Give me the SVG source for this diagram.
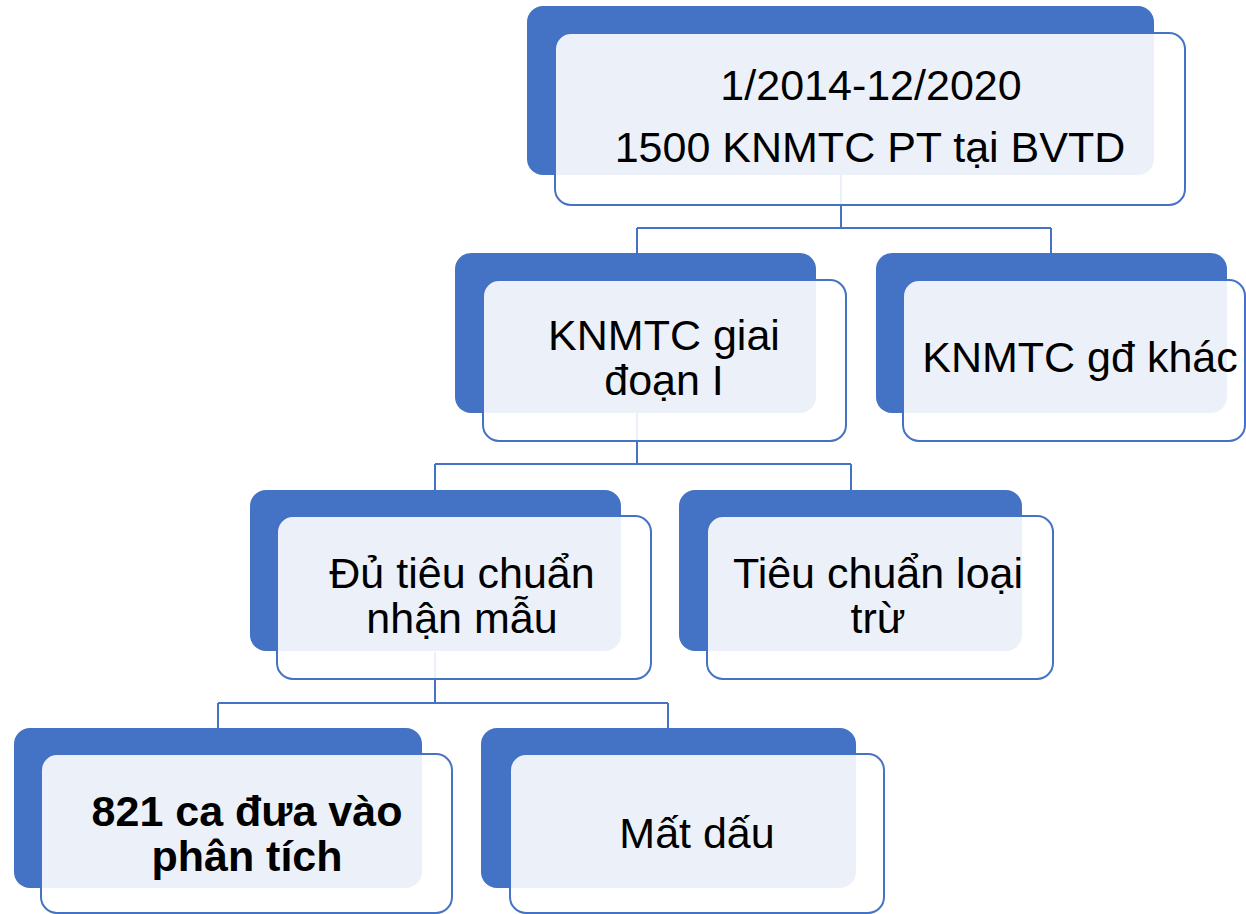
<svg xmlns="http://www.w3.org/2000/svg" width="1246" height="914" viewBox="0 0 1246 914">
<style>
.back{fill:#4472C4;}
.front{fill:#ffffff;fill-opacity:0.9;stroke:#4472C4;stroke-width:2;}
.conn{fill:none;stroke:#4472C4;stroke-width:2;}
text{font-family:"Liberation Sans",Arial,sans-serif;font-size:43px;fill:#000;text-anchor:middle;}
.b{font-weight:bold;}
</style>
<rect width="1246" height="914" fill="#ffffff"/>
<g id="connectors">
<path class="conn" d="M841 175 V228 M637 228 H1051 M637 228 V253 M1051 228 V253"/>
<path class="conn" d="M637 413 V464 M435 464 H851 M435 464 V490 M851 464 V490"/>
<path class="conn" d="M435 652 V703 M218 703 H668 M218 703 V728 M668 703 V728"/>
</g>
<g id="n1">
<rect class="back" x="527" y="6" width="627" height="169" rx="16"/>
<rect class="front" x="555" y="33" width="630" height="172" rx="16"/>
<text x="871" y="100">1/2014-12/2020</text>
<text x="870" y="162">1500 KNMTC PT tại BVTD</text>
</g>
<g id="n2">
<rect class="back" x="455" y="253" width="361" height="160" rx="16"/>
<rect class="front" x="483" y="280" width="363" height="161" rx="16"/>
<text x="664" y="350">KNMTC giai</text>
<text x="664" y="395">đoạn I</text>
</g>
<g id="n3">
<rect class="back" x="876" y="253" width="351" height="160" rx="16"/>
<rect class="front" x="903" y="280" width="342" height="161" rx="16"/>
<text x="1080" y="372">KNMTC gđ khác</text>
</g>
<g id="n4">
<rect class="back" x="250" y="490" width="371" height="161" rx="16"/>
<rect class="front" x="277" y="516" width="374" height="163" rx="16"/>
<text x="462" y="588">Đủ tiêu chuẩn</text>
<text x="462" y="633">nhận mẫu</text>
</g>
<g id="n5">
<rect class="back" x="679" y="490" width="343" height="161" rx="16"/>
<rect class="front" x="707" y="516" width="346" height="163" rx="16"/>
<text x="878" y="588">Tiêu chuẩn loại</text>
<text x="878" y="633">trừ</text>
</g>
<g id="n6">
<rect class="back" x="14" y="728" width="408" height="160" rx="16"/>
<rect class="front" x="41" y="754" width="411" height="159" rx="16"/>
<text class="b" x="247" y="826">821 ca đưa vào</text>
<text class="b" x="247" y="871">phân tích</text>
</g>
<g id="n7">
<rect class="back" x="481" y="728" width="375" height="160" rx="16"/>
<rect class="front" x="510" y="754" width="374" height="159" rx="16"/>
<text x="697" y="848">Mất dấu</text>
</g>
</svg>
